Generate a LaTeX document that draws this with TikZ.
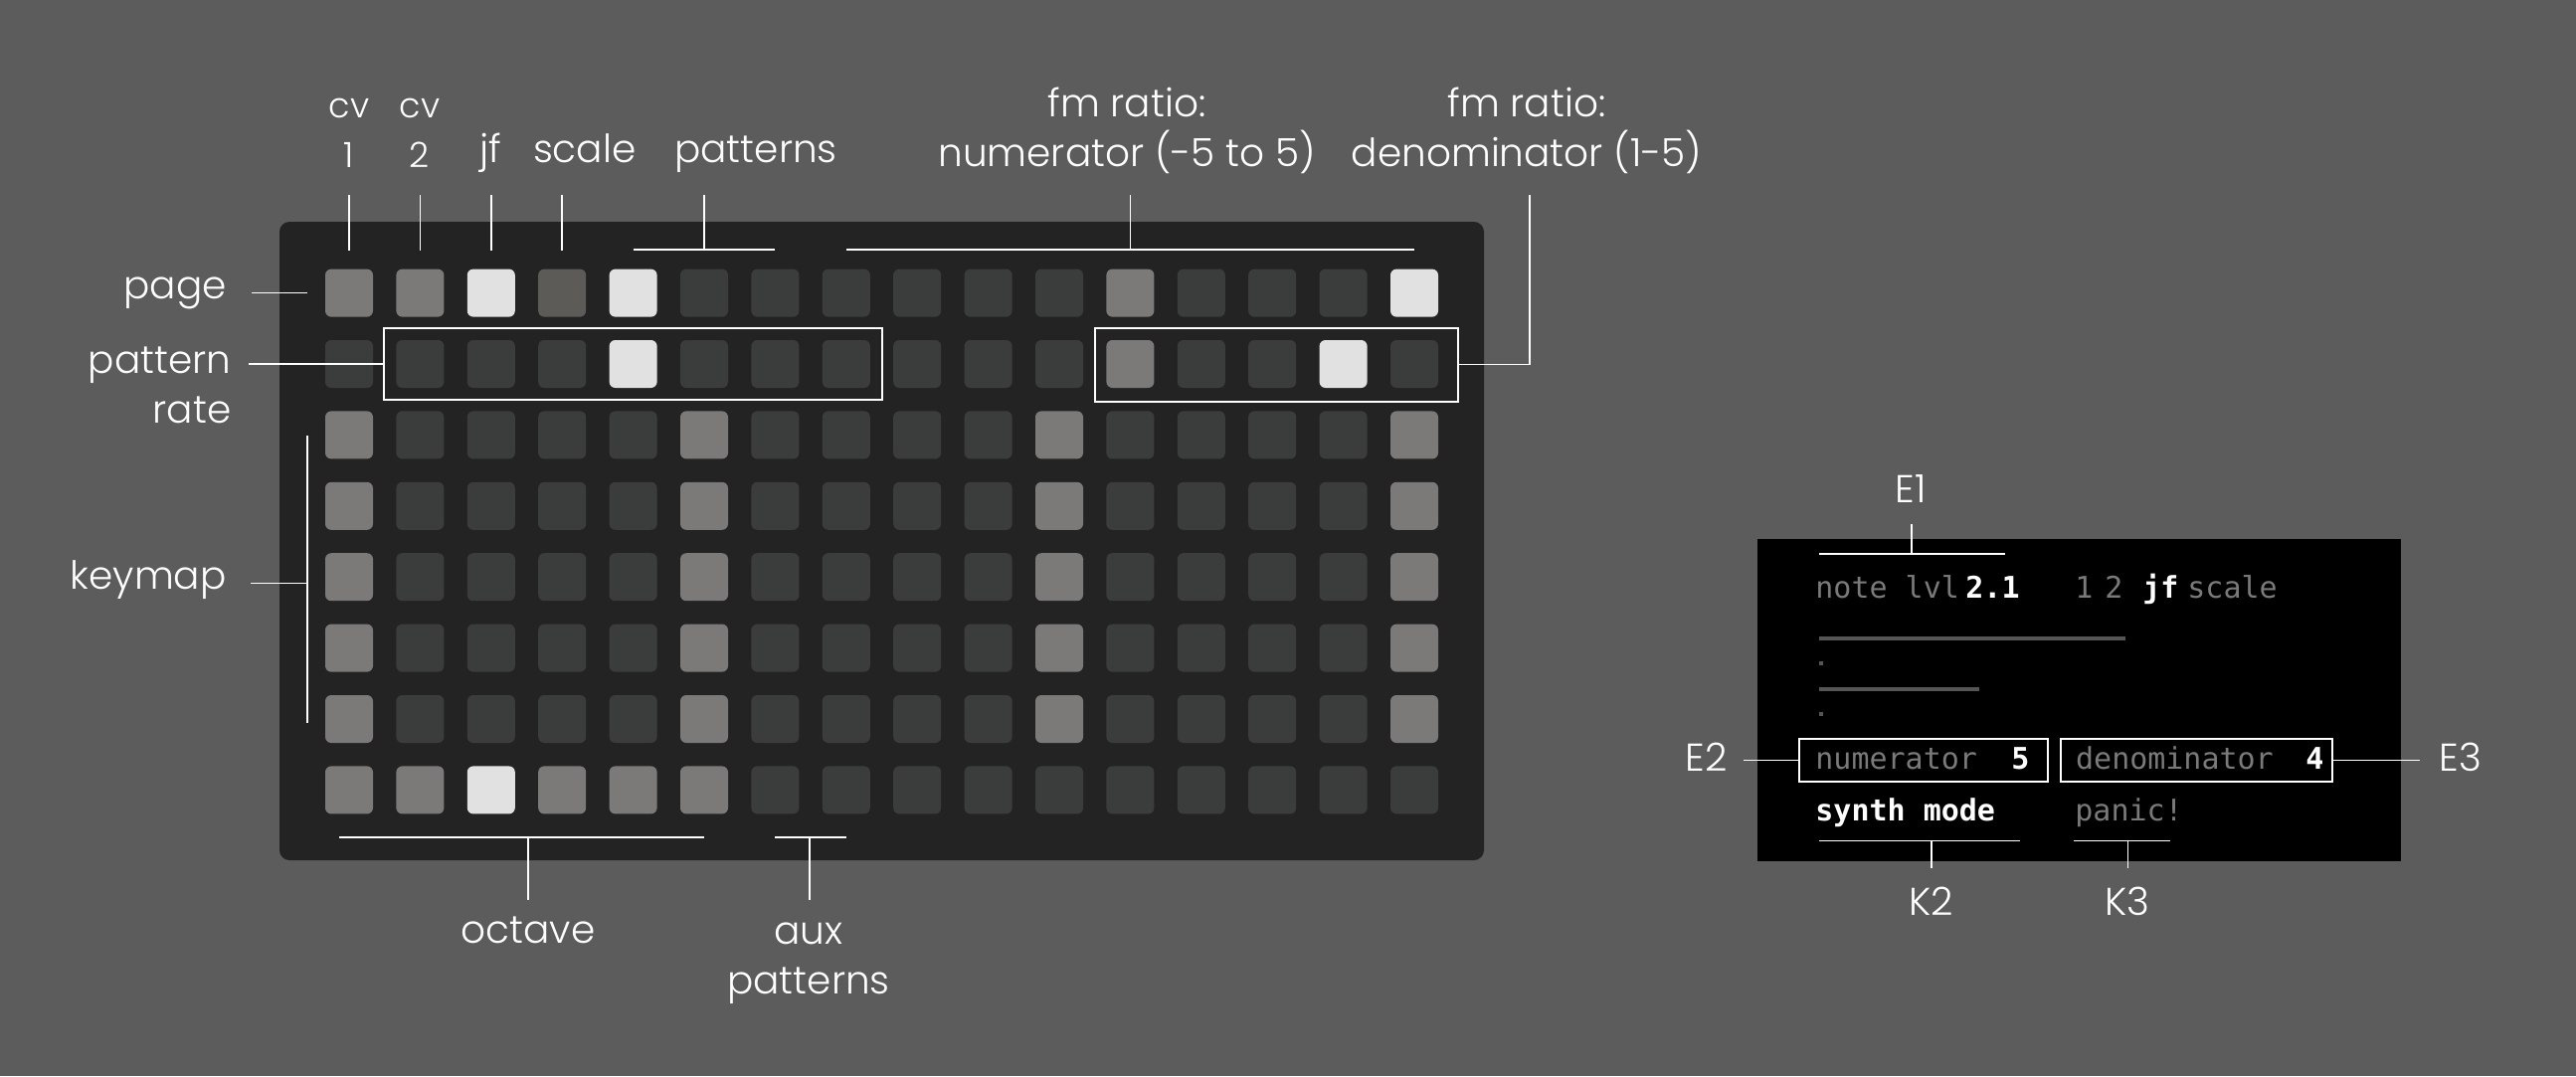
\documentclass[tikz,border=0pt]{standalone}
\usepackage{fontspec}
\setmainfont{Poppins Light}
\newfontfamily\screenfont{DejaVu Sans Mono}
\usepackage{tikz}
\usetikzlibrary{fit}

\definecolor{bgcol}{HTML}{5B5C5B}
\definecolor{panelcol}{HTML}{232323}
\definecolor{lv0}{HTML}{3B3D3C}
\definecolor{lv1}{HTML}{5C5B58}
\definecolor{lv2}{HTML}{7B7A78}
\definecolor{lv3}{HTML}{E0E1E0}
\definecolor{scrgray}{HTML}{7A7A7A}
\definecolor{bargray}{HTML}{555555}

\tikzset{
  key/.style={rectangle, rounded corners=3pt, minimum size=24pt, inner sep=0pt},
  lbl/.style={text=white, inner sep=0pt, font=\fontsize{19.5}{25}\selectfont},
  cvlbl/.style={lbl, font=\fontsize{17.5}{25}\selectfont},
  wire/.style={draw=white, line width=0.8pt},
  hlbox/.style={draw=white, line width=1pt, inner sep=0pt},
  scr/.style={inner sep=0pt, anchor=base west, font=\screenfont\fontsize{15}{18}\selectfont},
  dim/.style={scr, text=scrgray},
  lit/.style={scr, text=white, font=\screenfont\bfseries\fontsize{15}{18}\selectfont},
}

\begin{document}
\begin{tikzpicture}[x=0.5pt, y=-0.5pt]
  \path[use as bounding box, fill=bgcol] (0,0) rectangle (2590,1082);

  % grid
  \fill[panelcol, rounded corners=5pt] (281,223) rectangle (1492,865);
  \foreach \row [count=\r] in {
      {2,2,3,1,3,0,0,0,0,0,0,2,0,0,0,3},
      {0,0,0,0,3,0,0,0,0,0,0,2,0,0,3,0},
      {2,0,0,0,0,2,0,0,0,0,2,0,0,0,0,2},
      {2,0,0,0,0,2,0,0,0,0,2,0,0,0,0,2},
      {2,0,0,0,0,2,0,0,0,0,2,0,0,0,0,2},
      {2,0,0,0,0,2,0,0,0,0,2,0,0,0,0,2},
      {2,0,0,0,0,2,0,0,0,0,2,0,0,0,0,2},
      {2,2,3,2,2,2,0,0,0,0,0,0,0,0,0,0}}
    \foreach \lv [count=\c] in \row
      \node[key, fill=lv\lv] (k\r-\c) at ({351+71.4*(\c-1)}, {294.6+71.4*(\r-1)}) {};

  \node[hlbox, fit=(k2-2)(k2-8), inner sep=6pt] (ratebox) {};
  \node[hlbox, fit={(1100.7,329.5) (1466.4,403.5)}] (denbox) {};

  % top labels (base = last line)
  \node[cvlbl, anchor=base, align=center] (cv1) at (351,168) {cv\\1};
  \node[cvlbl, anchor=base, align=center] (cv2) at (422,168) {cv\\2};
  \node[lbl, anchor=base] (jf) at (493,163.3) {jf};
  \node[lbl, anchor=base] (scale) at (587.7,163.3) {scale};
  \node[lbl, anchor=base] (patterns) at (760,163.3) {patterns};
  \node[lbl, anchor=base, align=center] (fmnum) at (1133,167) {fm ratio:\\numerator (-5 to 5)};
  \node[lbl, anchor=base, align=center] (fmden) at (1535,167) {fm ratio:\\denominator (1-5)};

  \foreach \c in {1,...,4}
    \draw[wire] (k1-\c |- 0,196) -- (k1-\c |- 0,252);
  \draw[wire] (k1-5 |- 0,251) -- (k1-7 |- 0,251);
  \draw[wire] (k1-6 |- 0,251) -- (k1-6 |- 0,196);
  \draw[wire] (k1-8 |- 0,251) -- (k1-16 |- 0,251);
  \draw[wire] (k1-12 |- 0,251) -- (k1-12 |- 0,196);
  \coordinate (dentop) at (1538,196);
  \draw[wire] (denbox.east) -| (dentop);

  % left labels
  \node[lbl, anchor=base east] (page) at (228.3,300) {page};
  \node[lbl, anchor=base east, align=right] (prate) at (232.7,425) {pattern\\rate};
  \node[lbl, anchor=base east] (keymap) at (228,592) {keymap};
  \draw[wire] ([xshift=12.5pt]page.mid east) -- ++(28pt,0);
  \draw[wire] (ratebox.west) -- ++(-67.5pt,0);
  \coordinate (kmtop) at (309,438);
  \coordinate (kmbot) at (309,727);
  \draw[wire] (kmtop) -- (kmbot);
  \draw[wire] ([xshift=12pt]keymap.mid east) -- (kmtop |- keymap.mid east);

  % bottom labels
  \node[lbl, anchor=base] (octave) at (531,948.3) {octave};
  \node[lbl, anchor=base, align=center] (aux) at (813,999) {aux\\patterns};
  \draw[wire] (341,842) -- (708,842);
  \draw[wire] (531,842) -- (531,905);
  \draw[wire] (k8-7 |- 0,842) -- (k8-8 |- 0,842);
  \draw[wire] (814,842) -- (814,905);

  % screen
  \node[fill=black, inner sep=0pt, minimum width=323.5pt, minimum height=162pt, anchor=north west] (screen) at (1767,542) {};
  \node[dim] (notelvl) at (1825,601.7) {note lvl};
  \node[lit] (lvl) at (1976,601.7) {2.1};
  \node[dim] (one) at (2086,601.7) {1};
  \node[dim] (two) at (2116,601.7) {2};
  \node[lit] (jfon) at (2154,601.7) {jf};
  \node[dim] (scaleoff) at (2199,601.7) {scale};
  \fill[bargray] (1829,639.7) rectangle (2137,643.7);
  \fill[bargray] (1829,665.3) rectangle (1833,669.3);
  \fill[bargray] (1829,690.7) rectangle (1990,694.7);
  \fill[bargray] (1829,715.7) rectangle (1833,719.5);
  \node[hlbox, fit={(1809.3,743.3) (2059.3,785.7)}] (numbox) {};
  \node[hlbox, fit={(2071.7,743.3) (2345,785.7)}] (denbox2) {};
  \node[dim] (numtxt) at (1825,773.3) {numerator};
  \node[lit] (numval) at (2022,773.3) {5};
  \node[dim] (dentxt) at (2086.7,773.3) {denominator};
  \node[lit] (denval) at (2318,773.3) {4};
  \node[lit] (synth) at (1825,825) {synth mode};
  \node[dim] (panic) at (2086,825) {panic!};

  % encoders and keys
  \node[lbl, anchor=base] (e1) at (1921,505) {E1};
  \node[lbl, anchor=base east] (e2) at (1737.3,775) {E2};
  \node[lbl, anchor=base west] (e3) at (2452,775) {E3};
  \node[lbl, anchor=base] (k2) at (1942,920) {K2};
  \node[lbl, anchor=base] (k3) at (2139,920) {K3};
  \draw[wire] (1829,557) -- (2016,557);
  \draw[wire] (1922,557) -- (1922,527);
  \draw[wire] (numbox.west) -- ++(-27.5pt,0);
  \draw[wire] (denbox2.east) -- ++(43.5pt,0);
  \draw[wire] (1829,845.3) -- (2030.7,845.3);
  \draw[wire] (1941.7,845.3) -- (1941.7,873);
  \draw[wire] (2085.3,845.3) -- (2182.3,845.3);
  \draw[wire] (2139.3,845.3) -- (2139.3,873);
\end{tikzpicture}
\end{document}
